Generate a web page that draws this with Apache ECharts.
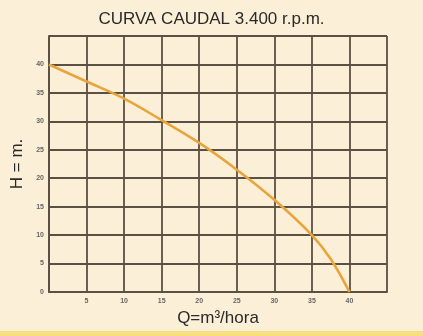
<!DOCTYPE html>
<html><head><meta charset="utf-8">
<script src="https://cdn.jsdelivr.net/npm/echarts@6/dist/echarts.min.js"></script>
<style>html,body{margin:0;padding:0;background:#fcefd7;}#c{width:423px;height:336px;}</style>
</head><body><div id="c"></div>
<script>
const title = 'CURVA CAUDAL 3.400 r.p.m.';
const xName = 'Q=m³/hora';
const yName = 'H = m.';
const flowQ = [0, 5, 10, 15, 20, 25, 30, 35, 37.5, 40];
const headH = [40, 37, 34, 30.2, 26.2, 21.5, 16.2, 10, 5.8, 0];
const xTickHidden = [0, 45];
const yTickHidden = [45];

const chart = echarts.init(document.getElementById('c'), null, {renderer: 'canvas'});
const gridColor = '#5a5044';
const font = 'Liberation Sans, Arial, sans-serif';
chart.setOption({
  backgroundColor: '#fcefd7',
  animation: false,
  title: {text: title, left: 'center', top: 6, textStyle: {fontFamily: font, fontSize: 17, fontWeight: 'normal', color: '#2a2a2a'}},
  grid: {left: 49, right: 36, top: 36, bottom: 44, containLabel: false, outerBoundsMode: 'none'},
  graphic: [{type: 'rect', shape: {x: 0, y: 331, width: 423, height: 5}, style: {fill: '#f6df7c'}}],
  xAxis: {
    type: 'value', min: 0, max: 45, interval: 5,
    name: xName, nameLocation: 'middle', nameGap: 9,
    nameTextStyle: {fontFamily: font, fontSize: 17, color: '#2a2a2a', verticalAlign: 'top'},
    axisLine: {show: true, lineStyle: {color: gridColor, width: 1.8}},
    axisTick: {show: false},
    axisLabel: {fontSize: 7, fontWeight: 'bold', color: '#666', margin: 6,
      formatter: v => xTickHidden.includes(v) ? '' : String(v)},
    splitLine: {show: true, lineStyle: {color: gridColor, width: 1.8}}
  },
  yAxis: {
    type: 'value', min: 0, max: 45, interval: 5,
    name: yName, nameLocation: 'middle', nameGap: 20, nameRotate: 90,
    nameTextStyle: {fontFamily: font, fontSize: 17, color: '#2a2a2a'},
    axisLine: {show: true, lineStyle: {color: gridColor, width: 1.8}},
    axisTick: {show: false},
    axisLabel: {fontSize: 7, fontWeight: 'bold', color: '#666', margin: 5,
      formatter: v => yTickHidden.includes(v) ? '' : String(v)},
    splitLine: {show: true, lineStyle: {color: gridColor, width: 1.8}}
  },
  series: [{
    type: 'line', smooth: 0.4, symbol: 'none',
    data: flowQ.map((q, i) => [q, headH[i]]),
    lineStyle: {color: '#e9a43c', width: 2.6}
  }]
});
</script></body></html>
